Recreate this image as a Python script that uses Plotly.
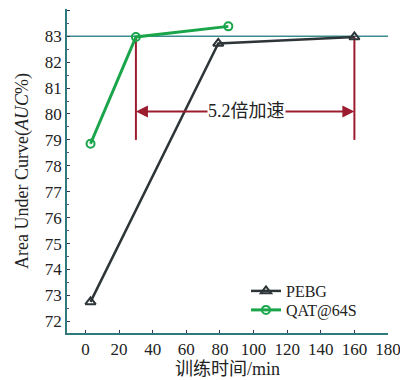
import plotly.graph_objects as go

pebg_x = [3, 79, 160]
pebg_y = [72.75, 82.72, 82.97]
qat_x = [3, 30, 85]
qat_y = [78.85, 82.97, 83.38]
ref_auc = 83.0
speed_x = [30, 160]
arrow_y = 80.1
bracket_bottom = 79.0
speed_label = "5.2倍加速"
x_ticks = [0, 20, 40, 60, 80, 100, 120, 140, 160, 180]
y_ticks = list(range(72, 85))

RED = "#9b1c2e"
GREEN = "#1aa54b"
DARK = "#2e3538"
AXIS = "#2f7a7c"
FONT = "Liberation Serif"
CJK = "Liberation Serif, Noto Sans CJK SC"

fig = go.Figure()

# reference horizontal line
fig.add_shape(type="line", xref="paper", yref="y", x0=0, x1=1, y0=ref_auc, y1=ref_auc,
              line=dict(color="#3b8c8e", width=1.5), layer="below")
# vertical brackets
for sx in speed_x:
    fig.add_shape(type="line", xref="x", yref="y", x0=sx, x1=sx, y0=bracket_bottom, y1=ref_auc,
                  line=dict(color=RED, width=2), layer="below")

fig.add_trace(go.Scatter(x=pebg_x, y=pebg_y, mode="lines+markers", name="PEBG",
                         line=dict(color=DARK, width=2.5), legend="legend",
                         marker=dict(symbol="triangle-up-open", size=9, color=DARK, line=dict(width=2))))
fig.add_trace(go.Scatter(x=qat_x, y=qat_y, mode="lines+markers", name="QAT@64S",
                         line=dict(color=GREEN, width=3), legend="legend2",
                         marker=dict(symbol="circle-open", size=8, color=GREEN, line=dict(width=2))))

# double arrow
mid = (speed_x[0] + speed_x[1]) / 2
for tail, head in [(mid, speed_x[0]), (mid, speed_x[1])]:
    fig.add_annotation(x=head, y=arrow_y, ax=tail, ay=arrow_y, xref="x", yref="y",
                       axref="x", ayref="y", showarrow=True, arrowhead=2, arrowsize=1.2,
                       arrowwidth=2, arrowcolor=RED, text="")
fig.add_annotation(x=96, y=arrow_y, xref="x", yref="y", text=speed_label, showarrow=False,
                   bgcolor="white", font=dict(family=CJK, size=18, color="#222"),
                   borderpad=0)

leg_common = dict(xanchor="left", yanchor="middle", bgcolor="rgba(0,0,0,0)",
                  font=dict(family=FONT, size=16, color="#222"), itemwidth=30,
                  borderwidth=0)

fig.update_layout(
    width=400, height=372,
    margin=dict(l=59, r=20, t=1, b=47),
    paper_bgcolor="white", plot_bgcolor="white",
    font=dict(family=FONT, size=17, color="#222"),
    showlegend=True,
    legend=dict(x=0.5576, y=0.1296, **leg_common),
    legend2=dict(x=0.5576, y=0.071, **leg_common),
    xaxis=dict(range=[-11, 180], tickvals=x_ticks, showgrid=False, zeroline=False,
               showline=True, linecolor=AXIS, linewidth=1.5, ticks="inside", ticklen=3,
               tickcolor="#335", tickfont=dict(size=17),
               title=dict(text="训练时间/min", standoff=4, font=dict(family=CJK, size=18))),
    yaxis=dict(range=[71.55, 84.05], tickvals=y_ticks, showgrid=False, zeroline=False,
               showline=True, linecolor=AXIS, linewidth=1.5, ticks="inside", ticklen=3,
               tickcolor="#335", tickfont=dict(size=17),
               minor=dict(ticks="inside", ticklen=2, tickcolor="#557", dtick=0.5),
               title=dict(text="Area Under Curve(<i>AUC</i>%)", standoff=12,
                          font=dict(family=FONT, size=18))),
)

fig.write_html("out.html")
